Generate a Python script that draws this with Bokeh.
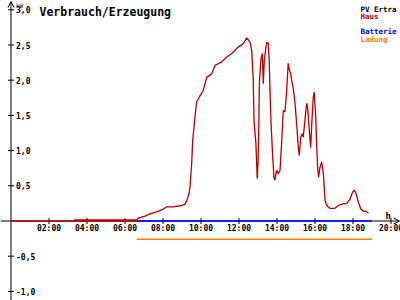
import math
from bokeh.plotting import figure
from bokeh.models import Range1d, Label, Arrow, OpenHead
from bokeh.core.properties import value
from bokeh.embed import file_html
from bokeh.resources import INLINE

# ---- data ----
haus_h = [0.0, 6.62, 6.62, 6.70, 7.05, 7.32, 7.67, 8.02, 8.19, 8.54, 8.98, 9.16, 9.28, 9.37,
          9.42, 9.51, 9.56, 9.68, 9.77, 9.95, 10.11, 10.30, 10.56, 10.74, 11.09, 11.35,
          11.62, 11.96, 12.23, 12.41, 12.58, 12.67, 12.75, 12.79, 12.89, 12.96, 13.00,
          13.04, 13.07, 13.16, 13.23, 13.28, 13.33, 13.41, 13.46, 13.54, 13.59, 13.63,
          13.68, 13.77, 13.84, 13.89, 13.98, 14.07, 14.16, 14.25, 14.33, 14.42, 14.51,
          14.59, 14.65, 14.72, 14.77, 14.86, 14.95, 15.04, 15.12, 15.17, 15.25, 15.32,
          15.38, 15.47, 15.56, 15.61, 15.70, 15.77, 15.84, 15.91, 15.96, 16.04, 16.09,
          16.14, 16.19, 16.26, 16.35, 16.44, 16.53, 16.62, 16.79, 17.05, 17.23, 17.41,
          17.67, 17.84, 17.98, 18.07, 18.16, 18.28, 18.41, 18.54, 18.68, 18.81]
haus_kw = [0.0, 0.0, 0.01, 0.04, 0.07, 0.10, 0.13, 0.17, 0.20, 0.20, 0.22, 0.24, 0.31, 0.39,
           0.48, 0.82, 1.14, 1.47, 1.69, 1.78, 1.85, 2.04, 2.09, 2.21, 2.26, 2.33,
           2.38, 2.47, 2.52, 2.60, 2.54, 2.42, 2.00, 1.43, 1.10, 0.60, 0.82,
           1.29, 1.95, 2.31, 2.38, 1.95, 2.28, 2.45, 2.54, 2.52, 2.28, 1.88,
           1.43, 0.93, 0.62, 0.58, 0.72, 0.67, 0.72, 1.14, 1.57, 1.55, 1.85,
           2.24, 2.15, 2.09, 2.00, 1.88, 1.67, 1.36, 1.04, 0.93, 1.19, 1.24,
           1.19, 1.43, 1.67, 1.62, 1.29, 1.04, 1.43, 1.76, 1.83, 1.47, 1.05,
           0.76, 0.62, 0.76, 0.84, 0.67, 0.29, 0.22, 0.18, 0.18, 0.22, 0.24,
           0.25, 0.31, 0.41, 0.44, 0.39, 0.27, 0.17, 0.14, 0.14, 0.11]
standby_h = [3.32, 6.62]
standby_kw = [0.01, 0.01]
batterie_h = [6.62, 19.0]
batterie_kw = [0.0, 0.0]
ladung_h = [6.62, 19.0]
ladung_kw = [-0.26, -0.26]

x_ticks = [2, 4, 6, 8, 10, 12, 14, 16, 18, 20]
x_labels = ["02:00", "04:00", "06:00", "08:00", "10:00", "12:00", "14:00", "16:00", "18:00", "20:00"]
y_ticks = [-1.0, -0.5, 0.5, 1.0, 1.5, 2.0, 2.5, 3.0]
y_labels = ["-1,0", "-0,5", "0,5", "1,0", "1,5", "2,0", "2,5", "3,0"]

legend_names = ["PV Ertra", "Haus", "Batterie", "Ladung"]
legend_colors = ["#000000", "#b40000", "#0000ff", "#ff8000"]
legend_rows = [0, 1, 3, 4]

RED = "#b40000"
W, H = 400, 300
PX_H = 19.0      # pixels per hour
PX_KW = 70.4     # pixels per kW
X0, Y0 = 10.5, 220.5  # pixel position of origin

p = figure(width=W, height=H, output_backend="svg", toolbar_location=None,
           x_axis_type=None, y_axis_type=None, min_border=0,
           x_range=Range1d(-X0 / PX_H, (W - X0) / PX_H),
           y_range=Range1d(-(H - Y0) / PX_KW, Y0 / PX_KW))
p.grid.visible = False
p.outline_line_color = None
p.background_fill_color = "white"
p.border_fill_color = "white"

FONT = value("DejaVu Sans Mono")

# axes (drawn under the data lines)
p.add_layout(Arrow(end=OpenHead(size=6, line_width=1, line_color="black"),
                   x_start=-X0 / PX_H, y_start=0, x_end=(W - 1 - X0) / PX_H, y_end=0,
                   line_color="black", line_width=1, level="underlay"))
p.add_layout(Arrow(end=OpenHead(size=6, line_width=1, line_color="black"),
                   x_start=0, y_start=-(H - Y0) / PX_KW, x_end=0, y_end=(Y0 - 1) / PX_KW,
                   line_color="black", line_width=1, level="underlay"))
p.scatter(x=x_ticks, y=[0] * len(x_ticks), marker="dash", size=6, angle=math.pi / 2,
          line_color="black", line_width=1)
p.scatter(x=[0] * len(y_ticks), y=y_ticks, marker="dash", size=6,
          line_color="black", line_width=1)

# series
p.line(ladung_h, ladung_kw, line_color="#ff8000", line_width=1.5)
p.line(batterie_h, batterie_kw, line_color="#0000ff", line_width=1.5)
p.line(haus_h, haus_kw, line_color=RED, line_width=1.3)
p.line(standby_h, standby_kw, line_color=RED, line_width=2)

# tick labels
p.text(x=x_ticks, y=[0] * len(x_ticks), text=x_labels, text_font=FONT,
       text_font_size="8px", text_font_style="bold", text_align="center",
       text_baseline="top", y_offset=3, text_color="black")
p.text(x=[0] * len(y_ticks), y=y_ticks, text=y_labels, text_font=FONT,
       text_font_size="8px", text_font_style="bold", text_align="left",
       text_baseline="middle", x_offset=5, text_color="black")

# unit labels
p.add_layout(Label(x=0, y=Y0 / PX_KW, x_offset=5, y_offset=-5, text="kW", text_font="DejaVu Sans Mono",
                   text_font_size="6px", text_baseline="alphabetic", text_color="black"))
p.add_layout(Label(x=(W - X0) / PX_H, y=0, x_offset=-15, y_offset=5, text="h",
                   text_font="DejaVu Sans Mono", text_font_size="9px", text_font_style="bold",
                   text_baseline="alphabetic", text_color="black"))

# title
p.add_layout(Label(x=39, y=H - 11, x_units="screen", y_units="screen",
                   text="Verbrauch/Erzeugung", text_font="DejaVu Sans Mono",
                   text_font_size="11.5px", text_font_style="bold", text_color="black",
                   text_baseline="alphabetic"))

# legend
for name, col, row in zip(legend_names, legend_colors, legend_rows):
    p.add_layout(Label(x=360, y=H - 8.5 - 7.6 * row, x_units="screen", y_units="screen",
                       text=name, text_font="DejaVu Sans Mono", text_font_size="7.5px",
                       text_font_style="bold", text_color=col, text_baseline="alphabetic"))

open("out.html", "w").write(file_html(p, INLINE))
